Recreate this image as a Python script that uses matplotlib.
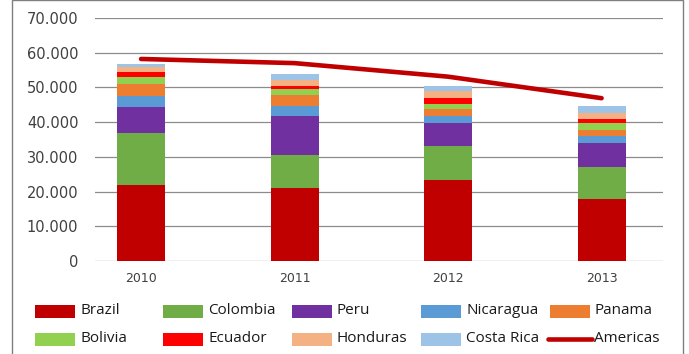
import matplotlib
matplotlib.use("Agg")
import matplotlib.pyplot as plt
from matplotlib.patches import Rectangle
from matplotlib.lines import Line2D
from matplotlib.ticker import FuncFormatter

years = ["2010", "2011", "2012", "2013"]

brazil = [22000, 21000, 23300, 17800]
colombia = [14800, 9400, 9700, 9400]
peru = [7650, 11300, 6850, 6700]
nicaragua = [3200, 2900, 1900, 2200]
panama = [3300, 3200, 1900, 1700]
bolivia = [2000, 1650, 1700, 2000]
ecuador = [1600, 950, 1550, 1050]
honduras = [1300, 1850, 2000, 1800]
costa_rica = [950, 1550, 1600, 2000]
americas = [58200, 57000, 53100, 46900]

series_names = ["Brazil", "Colombia", "Peru", "Nicaragua", "Panama",
                "Bolivia", "Ecuador", "Honduras", "Costa Rica"]
series_values = [brazil, colombia, peru, nicaragua, panama,
                 bolivia, ecuador, honduras, costa_rica]
series_colors = ["#C00000", "#70AD47", "#7030A0", "#5B9BD5", "#ED7D31",
                 "#92D050", "#FF0000", "#F4B183", "#9DC3E6"]
line_color = "#C00000"

W, H = 689, 354
fig = plt.figure(figsize=(W / 100, H / 100), dpi=100)


def fx(x):
    return x / W


def fy(y):
    return 1 - y / H


# plot area in pixel terms
left, right, top, bottom = 95, 663, 18, 261
ax = fig.add_axes([fx(left), fy(bottom), fx(right - left), (bottom - top) / H])

x = list(range(len(years)))
cum = [0] * len(years)
for name, vals, col in zip(series_names, series_values, series_colors):
    ax.bar(x, vals, width=0.313, bottom=cum, color=col, edgecolor="none",
           zorder=2)
    cum = [c + v for c, v in zip(cum, vals)]

ax.plot(x, americas, color=line_color, lw=3.3, solid_capstyle="round",
        zorder=3)

ax.set_xlim(-0.30, 3.40)
ax.set_ylim(0, 70000)
ax.set_yticks(range(0, 70001, 10000))
ax.yaxis.set_major_formatter(
    FuncFormatter(lambda v, p: "0" if v == 0 else f"{int(v):,}".replace(",", ".")))
ax.set_xticks(x)
ax.set_xticklabels(years)
ax.grid(axis="y", color="#8c8c8c", lw=0.9, zorder=1)
ax.set_axisbelow(True)
for s in ax.spines.values():
    s.set_visible(False)
ax.tick_params(axis="y", length=0, pad=12, labelsize=10.5, colors="#404040")
ax.tick_params(axis="x", length=0, pad=8, labelsize=9, colors="#404040")
for lab in ax.get_xticklabels() + ax.get_yticklabels():
    lab.set_fontfamily("DejaVu Sans")

# chart frame
fig.add_artist(Rectangle((fx(12), fy(400)), fx(671), 400 / H,
                         transform=fig.transFigure, fill=False,
                         edgecolor="#7f7f7f", lw=1))

# legend laid out in two rows of five
col_x = [35, 163, 292, 421, 550]
row_y = [311, 339]
legend_items = list(zip(series_names, series_colors)) + [("Americas", None)]
for i, (name, col) in enumerate(legend_items):
    cx = col_x[i % 5]
    cy = row_y[i // 5]
    if col is not None:
        fig.add_artist(Rectangle((fx(cx), fy(cy + 6.5)), fx(40), 13 / H,
                                 transform=fig.transFigure, facecolor=col,
                                 edgecolor="none"))
        tx = cx + 45
    else:
        fig.add_artist(Line2D([fx(cx - 2), fx(cx + 42)], [fy(cy), fy(cy)],
                              transform=fig.transFigure, color=line_color,
                              lw=3.3, solid_capstyle="round"))
        tx = cx + 44
    fig.text(fx(tx), fy(cy), name, ha="left", va="center", fontsize=11,
             family="Open Sans", color="#1a1a1a")

fig.savefig("out.png", dpi=100)
